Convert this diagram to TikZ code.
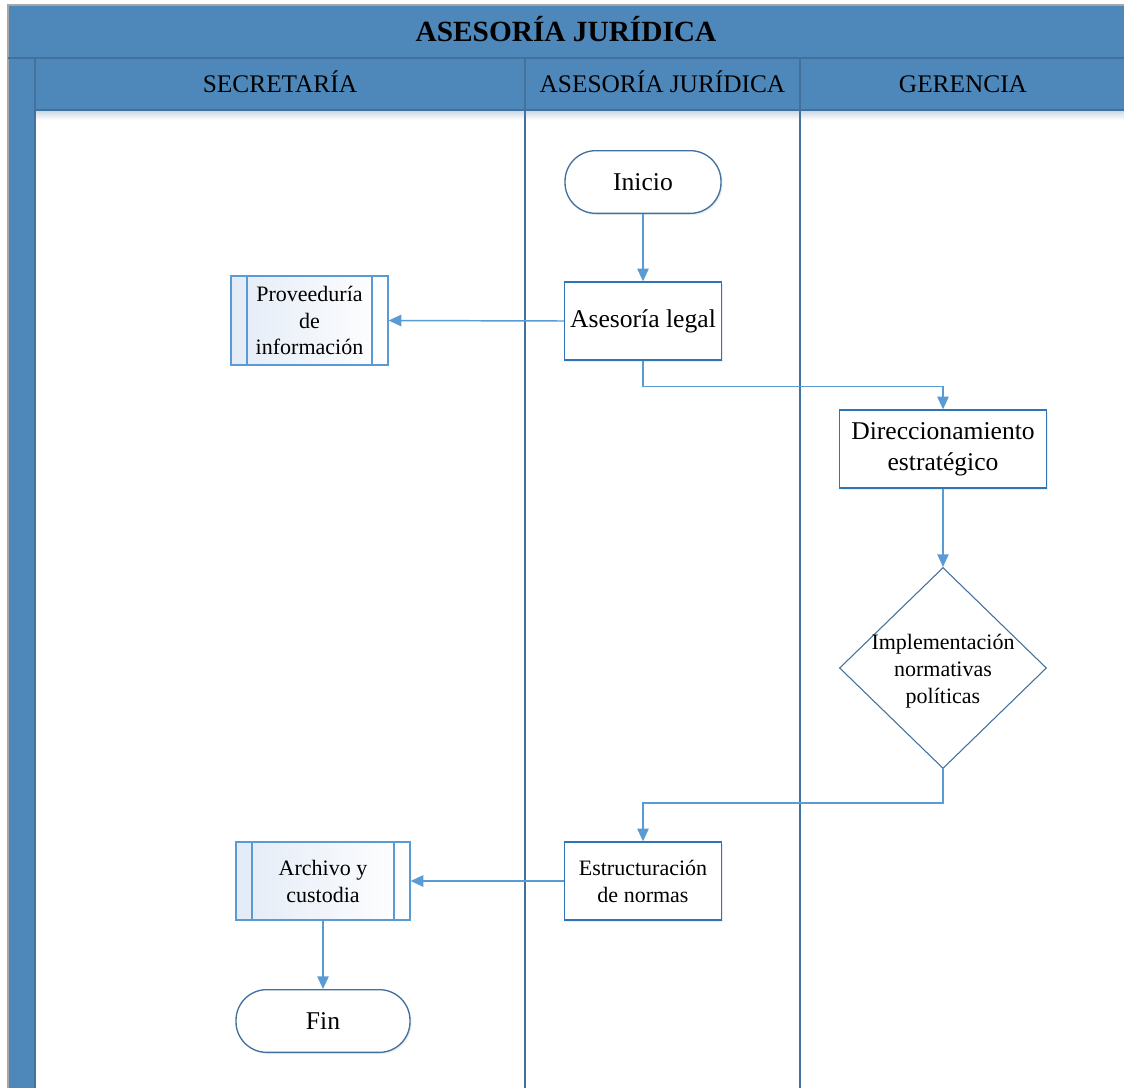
\documentclass[tikz,border=0pt]{standalone}
\usepackage{fontspec}
\setmainfont{Liberation Serif}
\usetikzlibrary{arrows.meta,shapes.geometric,shadows}

\definecolor{poolfill}{HTML}{4E88BB}
\definecolor{poolline}{HTML}{41719C}
\definecolor{flow}{HTML}{5B9BD5}
\definecolor{boxline}{HTML}{2E75B6}
\definecolor{subfill}{HTML}{E3EBF6}

\newcommand\titlefont{\fontsize{22pt}{26pt}\selectfont\bfseries}
\newcommand\lanefont{\fontsize{19pt}{23pt}\selectfont}
\newcommand\nodefontL{\fontsize{19.2pt}{23.2pt}\selectfont}
\newcommand\nodefontS{\fontsize{16.5pt}{20.2pt}\selectfont}

\tikzset{
  softshadow/.style={drop shadow={shadow xshift=1.2pt, shadow yshift=-1.2pt, opacity=0.12, fill=poolline}},
  terminal/.style={draw=poolline, line width=1pt, fill=white, rounded corners=23pt,
    minimum width=#1, minimum height=47pt, align=center, font=\nodefontL, inner sep=2pt, softshadow},
  process/.style={draw=boxline, line width=1pt, fill=white, minimum height=58.5pt,
    align=center, inner sep=2pt, softshadow},
  subproc/.style={draw=flow, line width=0.9pt, left color=subfill, right color=white,
    minimum height=58.5pt, align=center, inner sep=2pt, font=\nodefontS,
    path picture={
      \draw[flow, line width=0.9pt] ([xshift=12pt]path picture bounding box.north west)
        -- ([xshift=12pt]path picture bounding box.south west);
      \draw[flow, line width=0.9pt] ([xshift=-12pt]path picture bounding box.north east)
        -- ([xshift=-12pt]path picture bounding box.south east);
    }},
  decision/.style={draw=poolline, line width=0.8pt, fill=white, shape=diamond,
    minimum width=155.25pt, minimum height=150.75pt, inner sep=0pt},
  flowline/.style={draw=flow, line width=1.1pt, -{Triangle[length=9.5pt,width=8.5pt]}},
  lanehead/.style={font=\lanefont, text=black, anchor=base},
}

\begin{document}
\begin{tikzpicture}[x=0.75pt, y=-0.75pt]
\useasboundingbox (0,0) rectangle (1124,1088);
\fill[white] (0,0) rectangle (1124,1088);

% pool bands
\fill[poolfill] (8,5) rectangle (1130,110);
\fill[poolfill] (8,58) rectangle (35,1095);
\shade[top color=poolline!30, bottom color=white] (35,110) rectangle (1130,120);
\draw[black!35, line width=0.8pt] (8,1095) -- (8,5) -- (1130,5);
\draw[poolline, line width=0.9pt] (8,58) -- (1130,58);
\draw[poolline, line width=0.9pt] (35,110) -- (1130,110);
\draw[poolline, line width=1.2pt] (35,58) -- (35,1095);

% lane separators
\draw[poolline, line width=0.9pt] (525,58) -- (525,110);
\draw[poolline, line width=0.9pt] (800,58) -- (800,110);
\draw[poolline, line width=1.6pt] (525,110) -- (525,1095);
\draw[poolline, line width=1.6pt] (800,110) -- (800,1095);

% titles
\node[font=\titlefont, anchor=base] (pooltitle) at (566,42) {ASESORÍA JURÍDICA};
\node[lanehead] (lanesec) at (280,93) {SECRETARÍA};
\node[lanehead] (laneaj) at (662.5,93) {ASESORÍA JURÍDICA};
\node[lanehead] (laneger) at (963,93) {GERENCIA};

% flow nodes
\node[terminal=117pt] (inicio) at (643,182) {Inicio};
\node[process, minimum width=117.75pt, font=\nodefontL] (legal) at (643,321) {Asesoría legal};
\node[subproc, minimum width=117.75pt, minimum height=66.75pt] (prov) at (309.5,320.5)
  {Proveeduría\\de\\información};
\node[process, minimum width=155.25pt, font=\nodefontL] (dir) at (943,449)
  {Direccionamiento\\estratégico};
\node[decision, label={[font=\nodefontS, align=center, yshift=-2.5pt]center:Implementación\\normativas\\políticas}]
  (dec) at (943,668) {};
\node[process, minimum width=117.75pt, font=\nodefontS] (estr) at (643,881)
  {Estructuración\\de normas};
\node[subproc, minimum width=130.5pt] (arch) at (323,881) {Archivo y\\custodia};
\node[terminal=130.5pt] (fin) at (323,1021) {Fin};

% connectors
\draw[flowline] (inicio) -- (legal);
\draw[flowline] (legal.west) -- (prov.east);
\draw[flowline] (legal.south) -- ++(0,26) -| (dir.north);
\draw[flowline] (dir) -- (dec);
\draw[flowline] (dec.south) -- ++(0,34) -| (estr.north);
\draw[flowline] (estr.west) -- (arch.east);
\draw[flowline] (arch) -- (fin);
\end{tikzpicture}
\end{document}
